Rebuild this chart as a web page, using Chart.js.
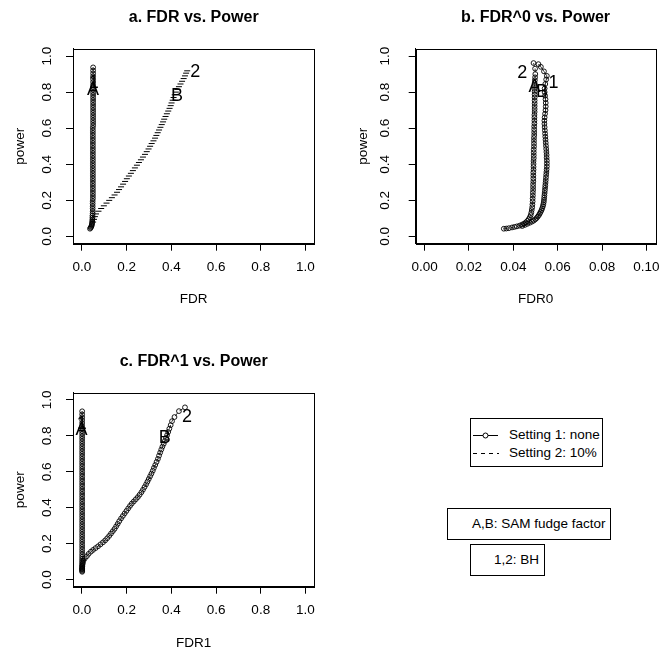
<!DOCTYPE html>
<html>
<head>
<meta charset="utf-8">
<script src="https://cdn.jsdelivr.net/npm/chart.js@4"></script>
<style>
  body { margin: 0; background: #fff; width: 668px; height: 653px; position: relative; overflow: hidden;
         font-family: "Liberation Sans", Arial, sans-serif; }
  .panel { position: absolute; }
  .box { position: absolute; box-sizing: border-box; border: 1px solid #000; background: #fff; }
  .txt { position: absolute; font-size: 13.5px; line-height: 16px; color: #000; white-space: nowrap; }
</style>
</head>
<body>
<div class="panel" style="left:0;top:0"><canvas id="chartA" width="334" height="318"></canvas></div>
<div class="panel" style="left:334px;top:0"><canvas id="chartB" width="334" height="318"></canvas></div>
<div class="panel" style="left:0;top:344px"><canvas id="chartC" width="334" height="309"></canvas></div>

<div class="box" style="left:470px;top:418px;width:133px;height:49px">
  <svg width="133" height="49" style="position:absolute;left:0;top:0">
    <line x1="2" y1="16.5" x2="27" y2="16.5" stroke="#000" stroke-width="1"/>
    <circle cx="14.5" cy="16.5" r="2.5" fill="#fff" stroke="#000" stroke-width="1"/>
    <line x1="2" y1="34.5" x2="28" y2="34.5" stroke="#000" stroke-width="1" stroke-dasharray="4,4"/>
  </svg>
  <span class="txt" style="left:38px;top:8px">Setting 1: none</span>
  <span class="txt" style="left:38px;top:26px">Setting 2: 10%</span>
</div>
<div class="box" style="left:447px;top:508px;width:164px;height:32px">
  <span class="txt" style="left:24px;top:7px">A,B: SAM fudge factor</span>
</div>
<div class="box" style="left:470px;top:544px;width:75px;height:32px">
  <span class="txt" style="left:23px;top:7px">1,2: BH</span>
</div>

<script>
// ---- data ----

// panel a: FDR vs power
const fdrA1 = [
  0.036,0.039,0.041,0.043,0.044,0.045,0.046,0.046,0.047,0.047,
  0.047,0.048,0.048,0.048,0.048,0.048,0.048,0.049,0.049,0.049,
  0.049,0.049,0.049,0.049,0.049,0.049,0.049,0.049,0.049,0.049,
  0.049,0.049,0.049,0.049,0.049,0.049,0.049,0.049,0.049,0.049,
  0.049,0.049,0.049,0.049,0.049,0.049,0.050,0.050,0.050,0.050,
  0.050,0.050,0.050,0.050,0.050,0.050,0.050,0.050,0.050,0.050,
  0.050,0.050,0.050,0.050,0.050,0.050,0.050,0.050,0.050];
const powerA1 = [
  0.043,0.048,0.053,0.058,0.064,0.070,0.077,0.085,0.094,0.104,
  0.115,0.127,0.140,0.154,0.168,0.182,0.196,0.210,0.224,0.238,
  0.252,0.266,0.280,0.294,0.308,0.322,0.336,0.350,0.364,0.378,
  0.392,0.406,0.420,0.434,0.448,0.462,0.476,0.490,0.504,0.518,
  0.532,0.546,0.560,0.574,0.588,0.602,0.616,0.630,0.644,0.658,
  0.672,0.686,0.700,0.714,0.728,0.742,0.756,0.770,0.784,0.798,
  0.812,0.826,0.840,0.856,0.872,0.888,0.904,0.920,0.937];
const fdrA2 = [
  0.050,0.054,0.058,0.063,0.074,0.086,0.098,0.110,0.122,0.134,
  0.146,0.157,0.166,0.175,0.184,0.193,0.201,0.210,0.219,0.228,
  0.237,0.246,0.255,0.264,0.273,0.282,0.290,0.298,0.305,0.312,
  0.320,0.327,0.333,0.339,0.345,0.351,0.357,0.363,0.368,0.374,
  0.380,0.386,0.392,0.397,0.401,0.406,0.410,0.415,0.420,0.427,
  0.434,0.441,0.448,0.455,0.461,0.466,0.471];
const powerA2 = [
  0.080,0.095,0.110,0.125,0.140,0.155,0.170,0.185,0.200,0.215,
  0.230,0.245,0.260,0.275,0.290,0.305,0.320,0.335,0.350,0.365,
  0.380,0.395,0.410,0.425,0.440,0.455,0.470,0.485,0.500,0.515,
  0.530,0.545,0.560,0.575,0.590,0.605,0.620,0.635,0.650,0.665,
  0.680,0.695,0.710,0.725,0.740,0.755,0.770,0.785,0.800,0.815,
  0.830,0.845,0.860,0.875,0.890,0.905,0.918];

// panel b: FDR0 vs power
const fdr0B1 = [
  0.0440,0.0452,0.0463,0.0474,0.0484,0.0492,0.0499,0.0505,0.0510,0.0515,
  0.0519,0.0523,0.0527,0.0530,0.0533,0.0535,0.0537,0.0538,0.0539,0.0540,
  0.0541,0.0542,0.0543,0.0544,0.0545,0.0546,0.0547,0.0548,0.0549,0.0550,
  0.0551,0.0551,0.0551,0.0550,0.0550,0.0549,0.0548,0.0547,0.0546,0.0545,
  0.0544,0.0543,0.0542,0.0541,0.0540,0.0540,0.0541,0.0543,0.0545,0.0546,
  0.0546,0.0545,0.0543,0.0541,0.0541,0.0544,0.0548,0.0551,0.0538,0.0524,0.0513];
const powerB1 = [
  0.058,0.064,0.070,0.076,0.082,0.088,0.095,0.102,0.110,0.118,
  0.127,0.136,0.146,0.156,0.167,0.178,0.190,0.202,0.215,0.228,
  0.241,0.255,0.269,0.283,0.297,0.312,0.327,0.342,0.357,0.372,
  0.388,0.404,0.420,0.436,0.452,0.468,0.485,0.502,0.519,0.536,
  0.553,0.570,0.588,0.606,0.624,0.642,0.660,0.680,0.700,0.720,
  0.740,0.760,0.780,0.800,0.820,0.845,0.870,0.890,0.915,0.940,0.955];
const fdr0B2 = [
  0.0357,0.0368,0.0380,0.0394,0.0405,0.0416,0.0428,0.0439,0.0448,0.0456,
  0.0463,0.0469,0.0474,0.0478,0.0481,0.0483,0.0485,0.0486,0.0487,0.0487,
  0.0488,0.0488,0.0489,0.0489,0.0489,0.0490,0.0490,0.0490,0.0490,0.0491,
  0.0491,0.0491,0.0491,0.0492,0.0492,0.0492,0.0492,0.0493,0.0493,0.0493,
  0.0493,0.0494,0.0494,0.0494,0.0494,0.0495,0.0495,0.0495,0.0495,0.0496,
  0.0496,0.0496,0.0496,0.0496,0.0496,0.0496,0.0496,0.0495,0.0495,0.0496,
  0.0497,0.0498,0.0499,0.0498,0.0491];
const powerB2 = [
  0.043,0.044,0.046,0.050,0.053,0.056,0.060,0.066,0.071,0.078,
  0.086,0.095,0.106,0.118,0.132,0.147,0.162,0.178,0.194,0.210,
  0.226,0.242,0.258,0.274,0.290,0.306,0.322,0.338,0.354,0.370,
  0.386,0.402,0.418,0.434,0.450,0.466,0.482,0.498,0.514,0.530,
  0.546,0.562,0.578,0.594,0.610,0.626,0.642,0.658,0.674,0.690,
  0.706,0.722,0.738,0.754,0.770,0.786,0.802,0.818,0.834,0.850,
  0.866,0.882,0.900,0.930,0.961];

// panel c: FDR1 vs power
const fdr1C1 = [
  0.001,0.001,0.001,0.001,0.001,0.001,0.001,0.001,0.001,0.001,
  0.001,0.001,0.001,0.001,0.001,0.001,0.001,0.001,0.001,0.001,
  0.001,0.001,0.001,0.001,0.001,0.001,0.001,0.001,0.001,0.001,
  0.001,0.001,0.001,0.001,0.001,0.001,0.001,0.001,0.001,0.001,
  0.001,0.001,0.001,0.001,0.001,0.001,0.001,0.001,0.001,0.001,
  0.001,0.001,0.001,0.001,0.001,0.001,0.001,0.001,0.001,0.001,
  0.001,0.001,0.001,0.001,0.001,0.001,0.001,0.001,0.001];
const powerC1 = powerA1;
const fdr1C2 = [
  0.001,0.002,0.004,0.007,0.013,0.022,0.030,0.040,0.050,0.061,
  0.072,0.083,0.094,0.104,0.113,0.122,0.130,0.138,0.146,0.153,
  0.160,0.167,0.175,0.183,0.191,0.199,0.207,0.215,0.223,0.232,
  0.241,0.250,0.258,0.266,0.273,0.280,0.287,0.293,0.299,0.305,
  0.311,0.317,0.322,0.328,0.334,0.340,0.345,0.350,0.355,0.360,
  0.366,0.371,0.376,0.381,0.386,0.391,0.397,0.403,0.414,0.434,0.461];
const powerC2 = [
  0.060,0.075,0.090,0.105,0.118,0.130,0.143,0.155,0.165,0.175,
  0.185,0.196,0.207,0.218,0.230,0.243,0.256,0.269,0.282,0.296,
  0.310,0.325,0.340,0.354,0.368,0.382,0.396,0.410,0.423,0.435,
  0.447,0.459,0.472,0.486,0.500,0.515,0.530,0.545,0.560,0.575,
  0.590,0.606,0.622,0.638,0.655,0.672,0.690,0.707,0.724,0.740,
  0.756,0.772,0.788,0.804,0.822,0.840,0.860,0.882,0.905,0.938,0.959];

// point labels (A,B = SAM fudge factor, 1,2 = BH)
const markText = ['A', '1', 'B', '2'];
const markXA = [0.049, 0.053, 0.425, 0.507];
const markYA = [0.812, 0.850, 0.777, 0.913];
const markXB = [0.0495, 0.0581, 0.0529, 0.0440];
const markYB = [0.830, 0.849, 0.802, 0.904];
const markXC = [-0.002, -0.001, 0.370, 0.470];
const markYC = [0.833, 0.868, 0.787, 0.907];

// tick labels
const unitTicks = [0, 0.2, 0.4, 0.6, 0.8, 1.0];
const fdr0Ticks = [0, 0.02, 0.04, 0.06, 0.08, 0.10];

const FONT = '"Liberation Sans", Arial, Helvetica, sans-serif';
Chart.defaults.color = '#000';
Chart.defaults.font.family = FONT;

const toPoints = (xs, ys) => xs.map((x, i) => ({x: x, y: ys[i]}));

/**
 * Draw the R style title, box round the plot and the A/B/1/2 marks.
 * */
const boxAndMarks = {
  id: 'boxAndMarks',
  afterDatasetsDraw(chart) {
    const {ctx, chartArea: a, scales} = chart;
    const m = chart.options.plugins.boxAndMarks;
    ctx.save();
    ctx.fillStyle = '#000';
    ctx.textAlign = 'center';
    ctx.textBaseline = 'middle';
    ctx.font = '18px ' + FONT;
    m.text.forEach((t, i) => {
      ctx.fillText(t, scales.x.getPixelForValue(m.xs[i]), scales.y.getPixelForValue(m.ys[i]));
    });
    ctx.font = 'bold 16px ' + FONT;
    ctx.fillText(m.title, (a.left + a.right) / 2, 18);
    ctx.strokeStyle = '#000';
    ctx.lineWidth = 1;
    ctx.strokeRect(Math.round(a.left) + 0.5, Math.round(a.top) + 0.5,
                   Math.round(a.right - a.left), Math.round(a.bottom - a.top));
    ctx.restore();
  }
};

/**
 * Build one panel.
 * @param {string} chartId
 * @param {Object} p
 * */
const createPanel = function (chartId, p) {
  const tickFont = {size: 13.5, family: FONT};
  return new Chart(document.getElementById(chartId), {
    type: 'scatter',
    data: {datasets: p.datasets},
    options: {
      responsive: false,
      animation: false,
      devicePixelRatio: 1,
      layout: {padding: {left: 0, right: p.padRight, top: 48.8, bottom: 0}},
      plugins: {
        legend: {display: false},
        tooltip: {enabled: false},
        title: {display: false},
        boxAndMarks: {title: p.title, text: markText, xs: p.markX, ys: p.markY}
      },
      scales: {
        x: {
          type: 'linear', min: p.xMin, max: p.xMax,
          afterBuildTicks: (s) => { s.ticks = p.xTicks.map(v => ({value: v})); },
          afterFit: (s) => { s.height = p.xHeight; },
          ticks: {autoSkip: false, maxRotation: 0, padding: 8, font: tickFont,
                  callback: (v) => v.toFixed(p.xDigits)},
          grid: {drawOnChartArea: false, tickLength: 7, color: '#000'},
          border: {display: true, color: '#000'},
          title: {display: true, text: p.xTitle, font: tickFont, padding: {top: 0, bottom: p.xTitlePad}}
        },
        y: {
          type: 'linear', min: -0.04, max: 1.04,
          afterBuildTicks: (s) => { s.ticks = unitTicks.map(v => ({value: v})); },
          afterFit: (s) => { s.width = p.yWidth; },
          ticks: {autoSkip: false, minRotation: 90, maxRotation: 90, crossAlign: 'center',
                  padding: p.yTickPad, font: tickFont, callback: (v) => v.toFixed(1)},
          grid: {drawOnChartArea: false, tickLength: 7, color: '#000'},
          border: {display: true, color: '#000'},
          title: {display: true, text: 'power', font: tickFont, padding: {top: p.yTitlePad, bottom: 0}}
        }
      }
    },
    plugins: [boxAndMarks]
  });
};

const circles = (data, dashed) => ({
  data: data,
  showLine: true,
  borderColor: '#000',
  borderWidth: 0.8,
  borderDash: dashed ? [4, 3] : [],
  pointStyle: 'circle',
  pointRadius: 2.4,
  pointBorderWidth: 0.9,
  pointBorderColor: '#000',
  pointBackgroundColor: 'rgba(0,0,0,0)'
});

createPanel('chartA', {
  title: 'a. FDR vs. Power', xTitle: 'FDR',
  xMin: -0.04, xMax: 1.04, xTicks: unitTicks, xDigits: 1,
  padRight: 19.6, yWidth: 73, xHeight: 74.3, xTitlePad: 10.2, yTitlePad: 12.2, yTickPad: 9,
  markX: markXA, markY: markYA,
  datasets: [
    circles(toPoints(fdrA1, powerA1), false),
    {
      data: toPoints(fdrA2, powerA2),
      showLine: false,
      pointStyle: 'line',
      pointRadius: 3,
      pointBorderWidth: 1,
      pointBorderColor: '#000',
      borderColor: '#000'
    }
  ]
});

createPanel('chartB', {
  title: 'b. FDR^0 vs. Power', xTitle: 'FDR0',
  xMin: -0.004, xMax: 0.104, xTicks: fdr0Ticks, xDigits: 2,
  padRight: 10, yWidth: 81.7, xHeight: 74.3, xTitlePad: 10.2, yTitlePad: 21.2, yTickPad: 14,
  markX: markXB, markY: markYB,
  datasets: [
    circles(toPoints(fdr0B1, powerB1), false),
    circles(toPoints(fdr0B2, powerB2), true)
  ]
});

createPanel('chartC', {
  title: 'c. FDR^1 vs. Power', xTitle: 'FDR1',
  xMin: -0.04, xMax: 1.04, xTicks: unitTicks, xDigits: 1,
  padRight: 19.6, yWidth: 73, xHeight: 66.3, xTitlePad: 1.9, yTitlePad: 12.2, yTickPad: 9,
  markX: markXC, markY: markYC,
  datasets: [
    circles(toPoints(fdr1C1, powerC1), false),
    circles(toPoints(fdr1C2, powerC2), true)
  ]
});
</script>
</body>
</html>
